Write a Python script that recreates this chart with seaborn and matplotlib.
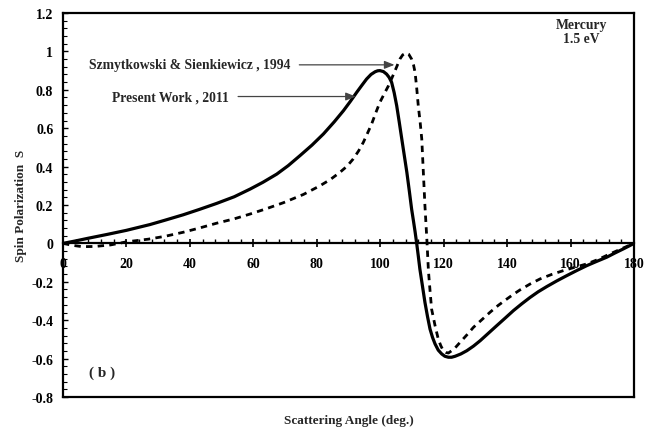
import matplotlib
matplotlib.use("Agg")
import matplotlib.pyplot as plt
from matplotlib.ticker import MultipleLocator, FuncFormatter
import seaborn as sns
import pandas as pd

# Spin polarization S versus scattering angle, mercury at 1.5 eV
present_angle = [0, 4, 8, 14, 20, 27.4, 32, 37.9, 43, 48.4, 54, 59, 63, 67.4, 71, 74.7,
                 78.5, 82.1, 85.5, 88.4, 90.6, 92.6, 94.2, 95.7, 97.1, 98.4, 99.2,
                 99.9, 101, 102, 102.8, 103.6, 104.4, 105.2, 106.0, 106.8, 107.6,
                 108.4, 109.2, 109.9, 110.5, 111.0, 111.5, 112.0, 112.5, 113.3, 114.1,
                 114.9, 115.7, 116.5, 117.3, 118.3, 119.4, 120.4, 121.5, 122.5, 123.6,
                 125.4, 127.3, 129.4, 131.5, 134.1, 136.7, 139.4, 142.0, 144.6, 147.2,
                 149.8, 152.5, 155.6, 158.8, 162.0, 165.1, 168.2, 171.4, 174.0, 176.6,
                 178.5, 180]
present_s = [0, 0.013, 0.027, 0.047, 0.068, 0.098, 0.12, 0.149, 0.177, 0.208, 0.243,
             0.283, 0.318, 0.361, 0.405, 0.457, 0.512, 0.57, 0.633, 0.691, 0.74,
             0.787, 0.823, 0.856, 0.88, 0.894, 0.899, 0.90, 0.895, 0.882, 0.865,
             0.839, 0.785, 0.717, 0.632, 0.544, 0.457, 0.37, 0.27, 0.179, 0.115,
             0.06, 0.0, -0.065, -0.133, -0.22, -0.307, -0.38, -0.446, -0.49, -0.524,
             -0.556, -0.576, -0.588, -0.593, -0.593, -0.588, -0.576, -0.559, -0.535,
             -0.507, -0.468, -0.429, -0.389, -0.35, -0.315, -0.282, -0.252, -0.225,
             -0.196, -0.168, -0.141, -0.116, -0.094, -0.072, -0.05, -0.029, -0.013, 0]

szmyt_angle = [0, 3, 6, 10, 15, 20, 26.9, 32.2, 37.9, 43, 48.4, 54, 59, 64, 69.5, 75.8,
               81.0, 84.3, 87.3, 89.6, 91.5, 93.2, 94.7, 96.0, 97.3, 98.6, 99.9, 101.3,
               102.6, 103.7, 104.7, 105.5, 106.2, 107.1, 108.1, 109.0, 109.9, 110.5,
               111.0, 111.5, 112.0, 112.6, 113.1, 113.6, 114.1, 114.4, 114.7, 115.2,
               115.7, 116.2, 117.3, 118.3, 119.1, 119.9, 120.7, 121.5, 123.3, 125.2,
               127.3, 129.4, 132.0, 134.6, 137.2, 139.9, 142.0, 144.1, 147.2, 150.4,
               154.0, 157.7, 161.4, 165.1, 168.8, 172.4, 176.2, 180]
szmyt_s = [0, -0.01, -0.017, -0.016, -0.008, 0.008, 0.022, 0.037, 0.058, 0.08, 0.105,
           0.128, 0.153, 0.18, 0.212, 0.255, 0.30, 0.333, 0.37, 0.403, 0.44, 0.482,
           0.527, 0.574, 0.622, 0.68, 0.735, 0.78, 0.821, 0.862, 0.90, 0.932, 0.96,
           0.982, 0.992, 0.985, 0.96, 0.93, 0.89, 0.81, 0.717, 0.63, 0.544, 0.37,
           0.196, 0.11, 0.023, -0.142, -0.245, -0.342, -0.429, -0.498, -0.533,
           -0.559, -0.568, -0.571, -0.55, -0.515, -0.477, -0.437, -0.398, -0.359,
           -0.323, -0.29, -0.265, -0.242, -0.212, -0.185, -0.162, -0.142, -0.124,
           -0.107, -0.083, -0.055, -0.027, 0]

x_ticks = [0, 20, 40, 60, 80, 100, 120, 140, 160, 180]
y_ticks = [-0.8, -0.6, -0.4, -0.2, 0, 0.2, 0.4, 0.6, 0.8, 1, 1.2]

present_df = pd.DataFrame({"angle": present_angle, "S": present_s})
szmyt_df = pd.DataFrame({"angle": szmyt_angle, "S": szmyt_s})

sns.set_theme(style="white")
plt.rcParams["font.family"] = ["Liberation Serif", "DejaVu Serif"]
plt.rcParams["font.weight"] = "bold"
plt.rcParams["axes.unicode_minus"] = False

fig = plt.figure(figsize=(6.54, 4.35), dpi=100)
ax = fig.add_axes([0.0963, 0.0851, 0.8731, 0.8827])

sns.lineplot(data=szmyt_df, x="angle", y="S", ax=ax, color="black", lw=2.0,
             sort=False)
ax.lines[-1].set_dashes((2.3, 1.9))
sns.lineplot(data=present_df, x="angle", y="S", ax=ax, color="black", lw=2.3,
             sort=False)
for ln in ax.lines:
    ln.set_solid_joinstyle("round")
    ln.set_dash_joinstyle("round")

ax.set_xlim(0, 180)
ax.set_ylim(-0.8, 1.2)
ax.set_xticks(x_ticks)
ax.set_yticks(y_ticks)
ax.xaxis.set_minor_locator(MultipleLocator(4))
ax.yaxis.set_minor_locator(MultipleLocator(0.04))
fmt = FuncFormatter(lambda v, p: f"{v:g}")
ax.xaxis.set_major_formatter(fmt)
ax.yaxis.set_major_formatter(fmt)

# x axis runs through S = 0, the frame is closed by a line at the bottom
for side in ["left", "right", "top", "bottom"]:
    ax.spines[side].set_linewidth(1.6)
    ax.spines[side].set_color("black")
ax.spines["bottom"].set_position(("data", 0))
ax.plot([0, 1], [0, 0], transform=ax.transAxes, color="black", lw=1.6,
        clip_on=False, solid_capstyle="projecting")

ax.tick_params(axis="x", which="major", direction="inout", length=6, width=1.2,
               pad=7, labelsize=10, bottom=True, colors="black")
ax.tick_params(axis="x", which="minor", direction="in", length=3, width=1.0,
               bottom=True, colors="black")
ax.tick_params(axis="y", which="major", direction="in", length=3.5, width=1.0,
               pad=7, labelsize=10, left=True, colors="black")
ax.tick_params(axis="y", which="minor", direction="in", length=3, width=0.8,
               left=True, colors="black")
for lbl in ax.get_xticklabels() + ax.get_yticklabels():
    lbl.set_fontweight("bold")

ax.set_xlabel("Scattering Angle (deg.)", fontsize=9.5, fontweight="bold")
ax.set_ylabel("Spin Polarization  S", fontsize=9.5, fontweight="bold")
ax.xaxis.set_label_coords(0.5, -0.045)
ax.yaxis.set_label_coords(-0.063, 0.5)

arrow = dict(arrowstyle="-|>,head_length=0.5,head_width=0.2", color="#444444",
             lw=0.9, shrinkA=0, shrinkB=0)
ax.text(71.6, 0.93, "Szmytkowski & Sienkiewicz , 1994", ha="right", va="center",
        fontsize=9.8, fontweight="bold")
ax.annotate("", xy=(104.5, 0.93), xytext=(74.5, 0.93), arrowprops=arrow)
ax.text(52.4, 0.765, "Present Work , 2011", ha="right", va="center",
        fontsize=9.8, fontweight="bold")
ax.annotate("", xy=(92.3, 0.765), xytext=(55.2, 0.765), arrowprops=arrow)

ax.text(163.5, 1.105, "Mercury\n1.5 eV", ha="center", va="center", fontsize=9.8,
        fontweight="bold", linespacing=1.1)
ax.text(12.2, -0.67, "( b )", ha="center", va="center", fontsize=11,
        fontweight="bold")

fig.savefig("out.png", dpi=100)
